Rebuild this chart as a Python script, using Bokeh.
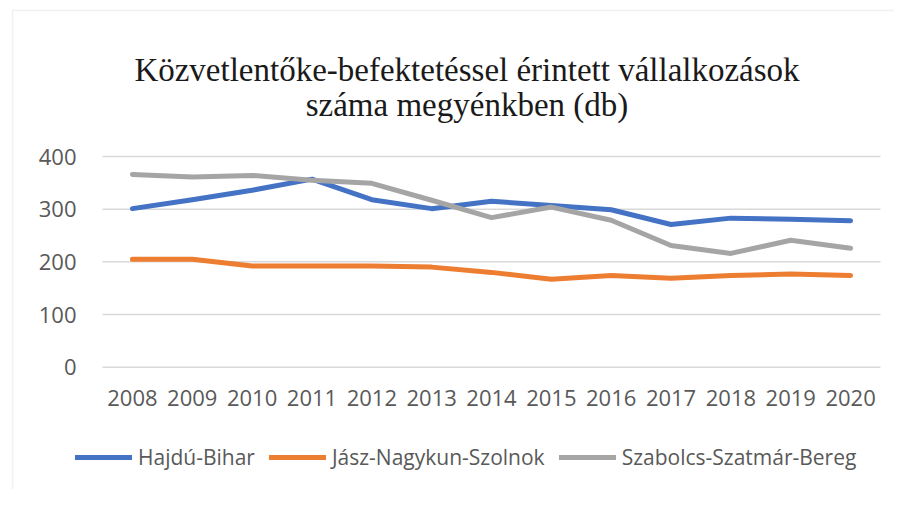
from bokeh.plotting import figure
from bokeh.models import Range1d, FixedTicker, Label, Legend, LegendItem, ColumnDataSource, BoxAnnotation
from bokeh.embed import file_html
from bokeh.resources import INLINE

years = [2008, 2009, 2010, 2011, 2012, 2013, 2014, 2015, 2016, 2017, 2018, 2019, 2020]
hajdu_bihar = [301, 318, 336, 357, 318, 301, 315, 307, 299, 271, 283, 281, 278]
jasz_nagykun_szolnok = [205, 205, 192, 192, 192, 190, 180, 167, 174, 169, 174, 177, 174]
szabolcs_szatmar_bereg = [366, 361, 364, 355, 349, 317, 284, 304, 279, 231, 216, 241, 226]
series_names = ["Hajdú-Bihar", "Jász-Nagykun-Szolnok", "Szabolcs-Szatmár-Bereg"]
series_colors = ["#4472C4", "#ED7D31", "#A5A5A5"]
y_ticks = [0, 100, 200, 300, 400]
title_lines = ["Közvetlentőke-befektetéssel érintett vállalkozások", "száma megyénkben (db)"]

W, H = 894, 489
# pixel layout of the plotting area inside the canvas
plot_left, plot_right, plot_top, plot_bottom = 102.0, 880.0, 156.0, 366.7
px_per_year = (plot_right - plot_left) / len(years)
px_per_unit = (plot_bottom - plot_top) / (y_ticks[-1] - y_ticks[0])
x0 = years[0] - 0.5
x_start = x0 - plot_left / px_per_year
x_end = x0 + (W - plot_left) / px_per_year
y_end = y_ticks[-1] + plot_top / px_per_unit
y_start = y_ticks[0] - (H - plot_bottom) / px_per_unit


def sx(px):
    return x0 + (px - plot_left) / px_per_year


def sy(py):
    return y_ticks[0] + (plot_bottom - py) / px_per_unit


p = figure(width=W, height=H, output_backend="svg", toolbar_location=None,
           x_range=Range1d(x_start, x_end), y_range=Range1d(y_start, y_end),
           min_border_left=0, min_border_right=0, min_border_top=0, min_border_bottom=0)
p.outline_line_color = None
p.background_fill_color = "white"
p.border_fill_color = "white"
p.xgrid.visible = False
p.ygrid.visible = False

# chart-area frame (light border as in the reference picture)
p.add_layout(BoxAnnotation(left=sx(12), right=sx(W + 20), top=sy(10), bottom=sy(H + 20),
                           fill_alpha=0, line_color="#CFCFCF", line_width=1.5, level="underlay"))

# horizontal gridlines over the plotting area
p.segment(x0=[years[0] - 0.5] * len(y_ticks), x1=[years[-1] + 0.5] * len(y_ticks),
          y0=y_ticks, y1=y_ticks, line_color="#D9D9D9", line_width=1.5)

for ax in (p.xaxis[0], p.yaxis[0]):
    ax.axis_line_color = None
    ax.major_tick_line_color = None
    ax.minor_tick_line_color = None
    ax.major_label_text_color = "#595959"
    ax.major_label_text_font = "Open Sans"
    ax.major_label_text_font_size = "22px"

p.xaxis.ticker = FixedTicker(ticks=years)
p.xaxis.fixed_location = y_ticks[0]
p.xaxis.major_label_standoff = 17
p.yaxis.ticker = FixedTicker(ticks=y_ticks)
p.yaxis.fixed_location = years[0] - 0.5
p.yaxis.major_label_standoff = 20

items = []
for name, vals, col in zip(series_names, [hajdu_bihar, jasz_nagykun_szolnok, szabolcs_szatmar_bereg], series_colors):
    src = ColumnDataSource(dict(x=years, y=vals))
    r = p.line("x", "y", source=src, line_color=col, line_width=5, line_cap="round", line_join="round")
    items.append(LegendItem(label=name, renderers=[r]))

legend = Legend(items=items, orientation="horizontal", location=(75, 18),
                padding=0, margin=0, spacing=14, label_standoff=6,
                glyph_width=57, glyph_height=20,
                border_line_color=None, background_fill_alpha=0,
                label_text_font="Open Sans", label_text_font_size="21px",
                label_text_color="#595959")
p.add_layout(legend, "center")

title_x = sx(466.5)
for line, base_px in zip(title_lines, [69.5, 104.5]):
    p.add_layout(Label(x=title_x, y=sy(base_px),
                       text=line, text_align="center", text_baseline="alphabetic",
                       text_font="Liberation Serif", text_font_size="33px",
                       text_color="#1a1a1a"))

open("out.html", "w").write(file_html(p, INLINE))
